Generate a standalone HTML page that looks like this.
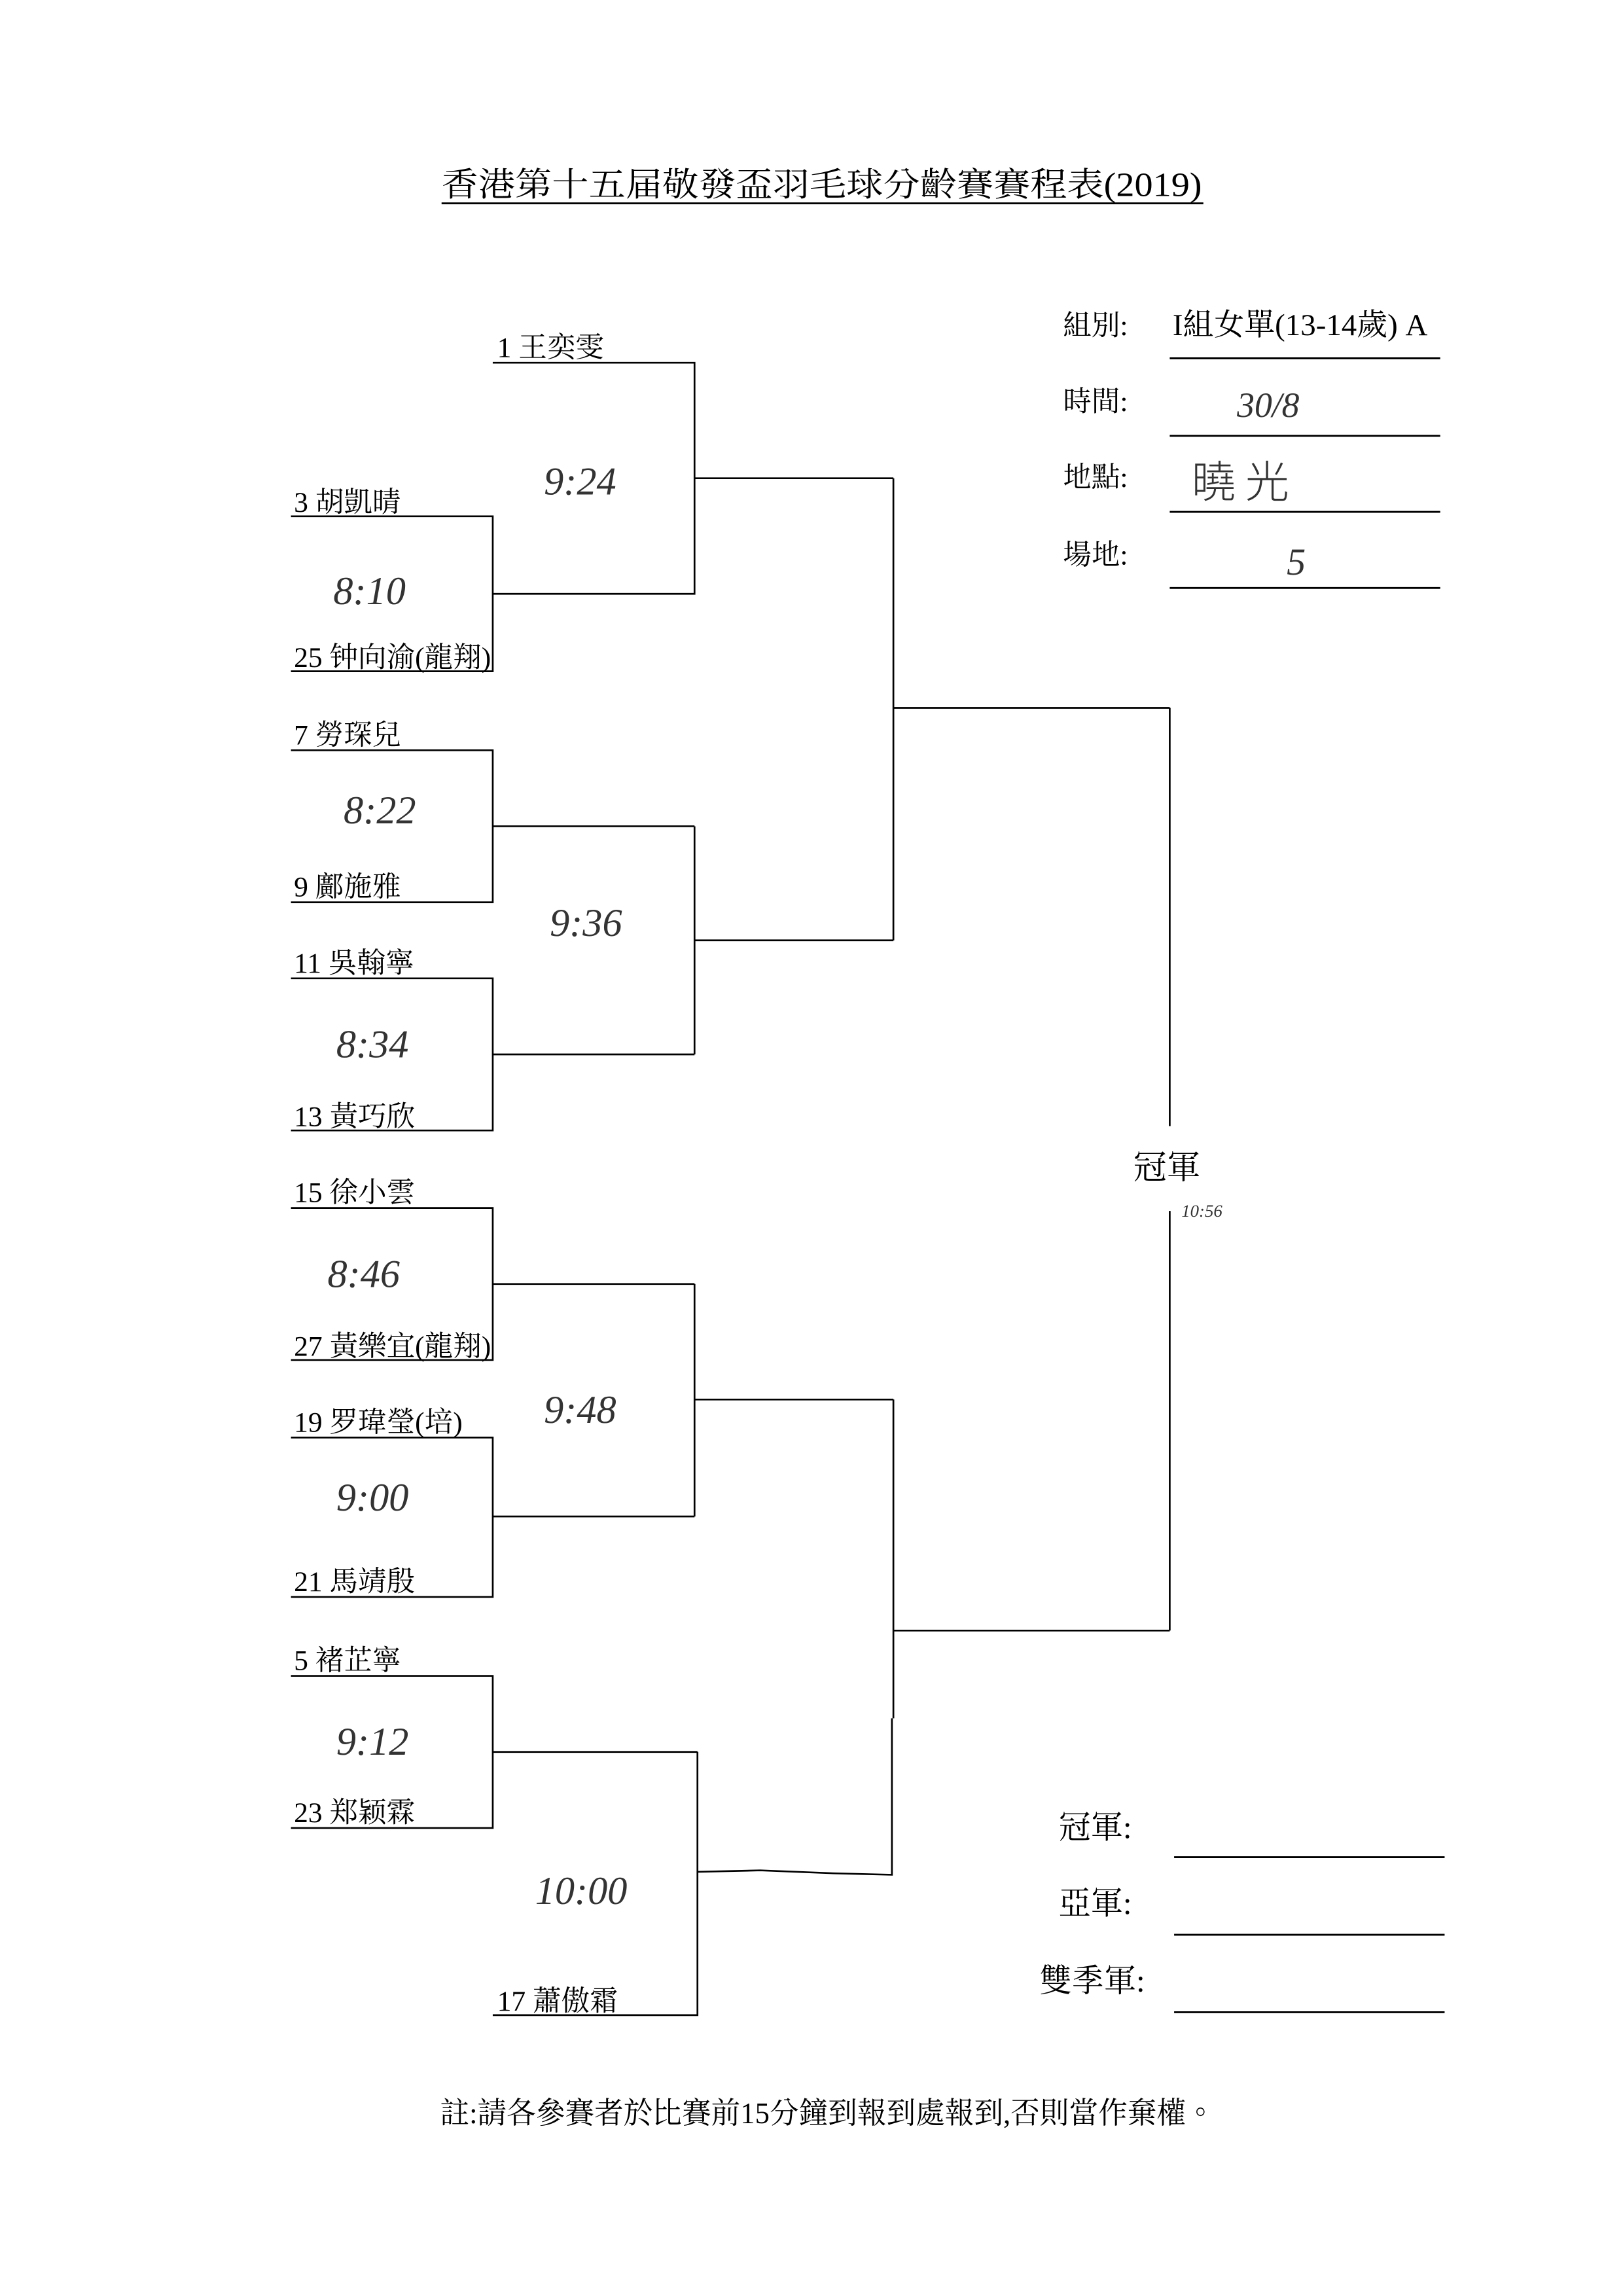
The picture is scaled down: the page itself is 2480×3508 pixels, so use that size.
<!DOCTYPE html>
<html><head><meta charset="utf-8"><style>
html,body{margin:0;padding:0;background:#fff;}
svg{display:block;}
.t{font-family:"Liberation Serif","Noto Serif CJK TC","Noto Serif CJK SC",serif;font-size:19.5px;fill:#000;}
.h{font-family:"Liberation Serif",serif;font-style:italic;font-size:27px;fill:#333;}
</style></head><body>
<svg width="2480" height="3508" viewBox="0 0 1110 1570" xmlns="http://www.w3.org/2000/svg">
<rect width="1110" height="1570" fill="#fff"/>
<text x="562" y="134" text-anchor="middle" class="t" style="font-size:23px" textLength="520" lengthAdjust="spacingAndGlyphs">香港第十五届敬發盃羽毛球分齡賽賽程表(2019)</text>
<line x1="302" y1="139" x2="823" y2="139" stroke="#000" stroke-width="1.3"/>

<g stroke="#000" stroke-width="1.2" fill="none">
<polyline points="337,248 475,248 475,406 337,406"/>
<polyline points="199,353 337,353 337,459 199,459"/>
<line x1="475" y1="327" x2="611" y2="327"/>
<polyline points="199,513 337,513 337,617 199,617"/>
<polyline points="199,669 337,669 337,773 199,773"/>
<line x1="337" y1="565" x2="475" y2="565"/>
<line x1="337" y1="721" x2="475" y2="721"/>
<polyline points="475,565 475,721"/>
<line x1="475" y1="643" x2="611" y2="643"/>
<polyline points="611,327 611,643"/>
<line x1="611" y1="484" x2="800" y2="484"/>
<line x1="800" y1="484" x2="800" y2="770"/>
<polyline points="199,826 337,826 337,930 199,930"/>
<polyline points="199,983 337,983 337,1092 199,1092"/>
<line x1="337" y1="878" x2="475" y2="878"/>
<line x1="337" y1="1037" x2="475" y2="1037"/>
<polyline points="475,878 475,1037"/>
<line x1="475" y1="957" x2="611" y2="957"/>
<polyline points="199,1146 337,1146 337,1250 199,1250"/>
<line x1="337" y1="1198" x2="477" y2="1198"/>
<polyline points="337,1378 477,1378 477,1198"/>
<path d="M477,1280 L520,1279 L570,1281 L610,1282 L610,1175"/>
<line x1="611" y1="957" x2="611" y2="1175"/>
<line x1="611" y1="1115" x2="800" y2="1115"/>
<line x1="800" y1="828" x2="800" y2="1115"/>
</g>

<g class="t">
<text x="340" y="244">1 王奕雯</text>
<text x="201" y="350">3 胡凱晴</text>
<text x="201" y="456">25 钟向渝(龍翔)</text>
<text x="201" y="509">7 勞琛兒</text>
<text x="201" y="613">9 鄺施雅</text>
<text x="201" y="665">11 吳翰寧</text>
<text x="201" y="770">13 黃巧欣</text>
<text x="201" y="822">15 徐小雲</text>
<text x="201" y="927">27 黃樂宜(龍翔)</text>
<text x="201" y="979">19 罗瑋瑩(培)</text>
<text x="201" y="1088">21 馬靖殷</text>
<text x="201" y="1142">5 褚芷寧</text>
<text x="201" y="1246">23 郑颖霖</text>
<text x="340" y="1375">17 蕭傲霜</text>
<text x="775" y="806" style="font-size:23px">冠軍</text>

<text x="727" y="229">組別:</text>
<text x="802" y="229" style="font-size:21px">I組女單(13-14歲) A</text>
<text x="727" y="281">時間:</text>
<text x="727" y="333">地點:</text>
<text x="727" y="386">場地:</text>

<text x="724" y="1257" style="font-size:22px">冠軍:</text>
<text x="724" y="1309" style="font-size:22px">亞軍:</text>
<text x="711" y="1362" style="font-size:22px">雙季軍:</text>
<text x="566" y="1452" text-anchor="middle" style="font-size:20.5px" textLength="530" lengthAdjust="spacingAndGlyphs">註:請各參賽者於比賽前15分鐘到報到處報到,否則當作棄權。</text>
</g>
<g stroke="#000" stroke-width="1.3">
<line x1="800" y1="245" x2="985" y2="245"/>
<line x1="800" y1="298" x2="985" y2="298"/>
<line x1="800" y1="350" x2="985" y2="350"/>
<line x1="800" y1="402" x2="985" y2="402"/>
<line x1="803" y1="1270" x2="988" y2="1270"/>
<line x1="803" y1="1323" x2="988" y2="1323"/>
<line x1="803" y1="1376" x2="988" y2="1376"/>
</g>

<g class="h">
<text x="372" y="338">9:24</text>
<text x="228" y="413">8:10</text>
<text x="235" y="563">8:22</text>
<text x="376" y="640">9:36</text>
<text x="230" y="723">8:34</text>
<text x="224" y="880">8:46</text>
<text x="372" y="973">9:48</text>
<text x="230" y="1033">9:00</text>
<text x="230" y="1200">9:12</text>
<text x="366" y="1302">10:00</text>
<text x="846" y="285" style="font-size:24px">30/8</text>
<text x="815" y="340" style="font-family:'Noto Sans CJK TC',sans-serif;font-size:30px;font-style:normal;font-weight:300">曉 光</text>
<text x="880" y="393" style="font-size:26px">5</text>
<text x="808" y="832" style="font-size:12px">10:56</text>
</g>
</svg>
</body></html>
